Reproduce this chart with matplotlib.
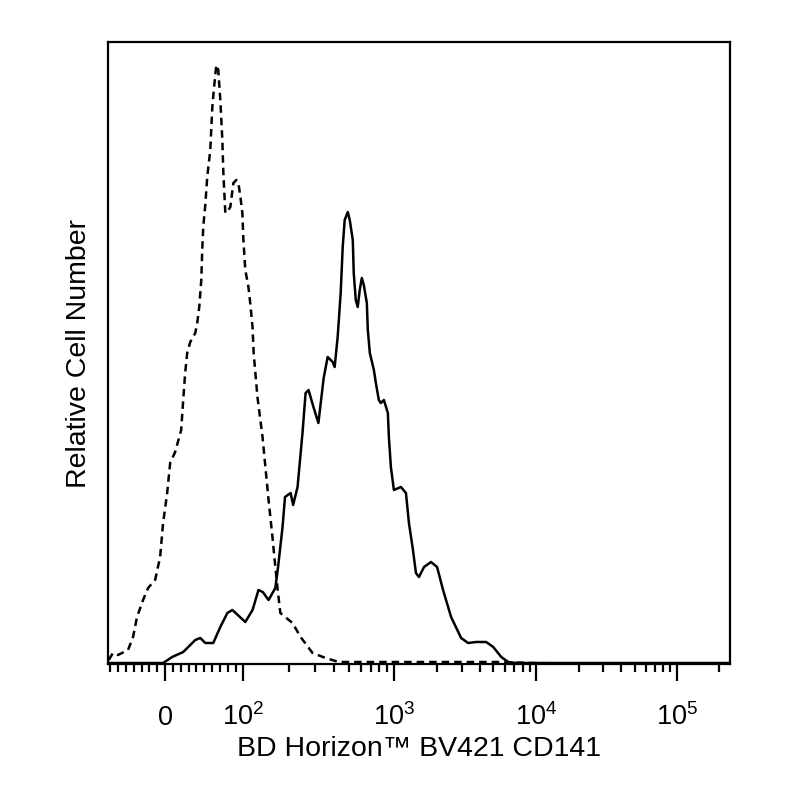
import numpy as np
import matplotlib
matplotlib.use("Agg")
import matplotlib.pyplot as plt
from matplotlib.ticker import FixedLocator, FixedFormatter, NullFormatter

plt.rcParams['font.family'] = ['Liberation Sans', 'DejaVu Sans']
plt.rcParams['mathtext.fontset'] = 'custom'
plt.rcParams['mathtext.rm'] = 'Liberation Sans'
plt.rcParams['mathtext.it'] = 'Liberation Sans:italic'
plt.rcParams['mathtext.bf'] = 'Liberation Sans:bold'

# ---------------- data ----------------
# Isotype control (dashed) : fluorescence value, relative count
iso_x = [-72, -66.7, -60.3, -47.4, -41, -35.9, -28.2, -21.8, -12.8, -6.4, -2.6,
         2.6, 6.4, 12.8, 20.5, 23.1, 25.6, 28.2, 32.1, 38.5, 41, 43.6, 46.2, 47.4,
         48.7, 51.3, 53.8, 57.7, 60.3, 62.8, 65.4, 67.9, 70.5, 73.1, 74.4, 76.9,
         80.8, 83.3, 87.2, 91, 93.6, 96.2, 98.7, 100, 103, 108, 111, 115, 117,
         124, 134, 140, 147, 156, 163, 169, 176, 212, 240, 288, 352, 430, 600,
         1000, 2500, 5700, 9200, 29000, 240000]
iso_y = [4, 11, 9, 14, 27, 47, 64, 76, 84, 107, 141,
         171, 201, 212, 234, 264, 291, 311, 322, 331, 341, 357, 384, 414,
         437, 459, 487, 514, 557, 579, 599, 594, 564, 524, 491, 451,
         454, 457, 481, 484, 481, 467, 451, 424, 394, 377, 361, 337, 311,
         267, 227, 197, 164, 127, 97, 74, 51, 41, 27, 11, 6, 2, 2,
         2, 2, 2, 1, 0, 0]

# CD141 stained (solid)
cd_x = [-72, -2.6, 9.0, 23.1, 38.5, 44.9, 51.3, 61.5, 70.5, 79.5, 85.9, 103,
        115, 126, 134.5, 147, 163, 170, 182, 189, 206, 214, 229, 247, 259, 271,
        292, 315, 341.5, 363, 392, 404, 423, 443, 457, 471, 494, 509, 533, 541,
        558, 575, 593, 612, 631, 661, 671, 692, 736, 759, 794, 819, 858, 912,
        926, 955, 1000, 1120, 1215, 1275, 1361, 1428, 1500, 1627, 1822, 2009,
        2214, 2520, 2964, 3320, 3780, 4446, 4981, 5669, 6350, 7230, 240000]
cd_y = [1, 1, 7, 12, 24, 26, 21, 21, 37, 51, 54, 42,
        54, 74, 72, 64, 76, 97, 137, 167, 171, 159, 177, 231, 271, 274,
        257, 241, 286, 307, 302, 297, 327, 371, 417, 444, 452, 444, 424, 391,
        364, 357, 374, 386, 379, 361, 334, 311, 294, 281, 264, 261, 264, 251,
        227, 197, 174, 177, 171, 141, 114, 91, 87, 97, 102, 97,
        74, 47, 26, 21, 22, 22, 17, 7, 2, 1, 1]

major_ticks = [0, 100, 1000, 10000, 100000]
major_labels = ['0', '$10^{2}$', '$10^{3}$', '$10^{4}$', '$10^{5}$']
minor_ticks = ([-70, -60, -50, -40, -30, -20, -10] +
               [10, 20, 30, 40, 50, 60, 70, 80, 90] +
               [m * 100 for m in range(2, 10)] +
               [m * 1000 for m in range(2, 10)] +
               [m * 10000 for m in range(2, 10)] + [200000])

# ------------- biexponential-like axis -------------
_lin_slope = 0.78
_U = [78.0, 228.0, 370.0, 510.0, 790.0]
_D = [2.0, 3.0, 4.0, 5.0, 7.0]


def fwd(x):
    x = np.asarray(x, dtype=float)
    lin = x <= 100
    with np.errstate(all='ignore'):
        lg = np.log10(np.where(lin, 100.0, x))
    return np.where(lin, x * _lin_slope, np.interp(lg, _D, _U))


def inv(u):
    u = np.asarray(u, dtype=float)
    lin = u <= _U[0]
    return np.where(lin, u / _lin_slope, 10 ** np.interp(u, _U, _D))


fig = plt.figure(figsize=(8, 8), dpi=100)
ax = fig.add_axes([108 / 800, 136 / 800, 622 / 800, 622 / 800])
ax.set_xscale('function', functions=(fwd, inv))

ax.plot(iso_x, iso_y, color='black', lw=1.8, linestyle=(0, (3.0, 2.0)))
ax.plot(cd_x, cd_y, color='black', lw=1.8)

ax.set_xlim(-73, 239000)
ax.set_ylim(0, 622)

ax.xaxis.set_major_locator(FixedLocator(major_ticks))
ax.xaxis.set_major_formatter(FixedFormatter(major_labels))
ax.xaxis.set_minor_locator(FixedLocator(minor_ticks))
ax.xaxis.set_minor_formatter(NullFormatter())
ax.tick_params(axis='x', which='major', length=12, width=1.6, direction='out',
               labelsize=19.5, pad=32)
ax.tick_params(axis='x', which='minor', length=6, width=1.6, direction='out')
for t in ax.xaxis.get_major_ticks():
    t.label1.set_verticalalignment('baseline')
ax.set_yticks([])
for s in ax.spines.values():
    s.set_linewidth(1.6)

ax.set_xlabel('BD Horizon\u2122 BV421 CD141', fontsize=20.5, labelpad=3.5)
ax.set_ylabel('Relative Cell Number', fontsize=20.5, labelpad=11.5)

fig.savefig('out.png', dpi=100)
